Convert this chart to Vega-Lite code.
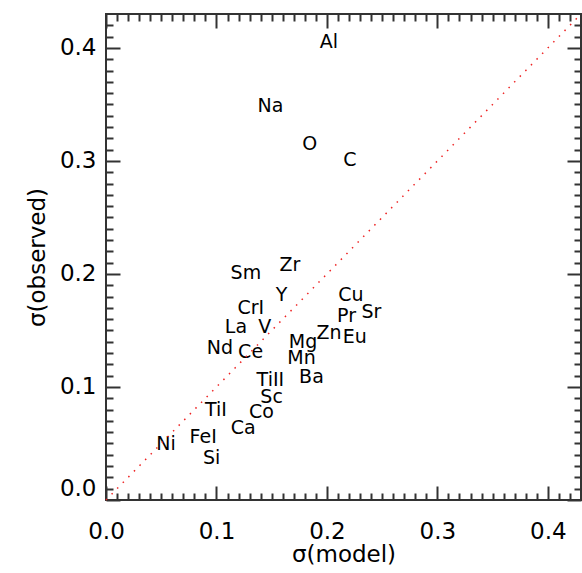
{
  "$schema": "https://vega.github.io/schema/vega-lite/v6.json",
  "autosize": "none",
  "width": 475,
  "height": 486,
  "padding": {"left": 106, "top": 14, "right": 1, "bottom": 73},
  "background": "white",
  "config": {
    "view": {"stroke": "#333", "strokeWidth": 2},
    "font": "DejaVu Sans"
  },
  "datasets": {
    "labels": [
      {"el": "Al", "x": 0.2017, "y": 0.4050},
      {"el": "Na", "x": 0.1489, "y": 0.3484},
      {"el": "O", "x": 0.1845, "y": 0.3148},
      {"el": "C", "x": 0.2207, "y": 0.3007},
      {"el": "Sm", "x": 0.1266, "y": 0.2005},
      {"el": "Zr", "x": 0.1664, "y": 0.2078},
      {"el": "Y", "x": 0.1589, "y": 0.1813},
      {"el": "CrI", "x": 0.1311, "y": 0.1695},
      {"el": "Cu", "x": 0.2216, "y": 0.1813},
      {"el": "Sr", "x": 0.2403, "y": 0.1665},
      {"el": "Pr", "x": 0.2177, "y": 0.1627},
      {"el": "La", "x": 0.1176, "y": 0.1527},
      {"el": "V", "x": 0.1438, "y": 0.1527},
      {"el": "Zn", "x": 0.2019, "y": 0.1480},
      {"el": "Eu", "x": 0.2252, "y": 0.1444},
      {"el": "Mg", "x": 0.1784, "y": 0.1400},
      {"el": "Nd", "x": 0.1031, "y": 0.1342},
      {"el": "Ce", "x": 0.1309, "y": 0.1312},
      {"el": "Mn", "x": 0.1770, "y": 0.1253},
      {"el": "Ba", "x": 0.1860, "y": 0.1090},
      {"el": "TiII", "x": 0.1488, "y": 0.1064},
      {"el": "Sc", "x": 0.1499, "y": 0.0908},
      {"el": "TiI", "x": 0.0995, "y": 0.0796},
      {"el": "Co", "x": 0.1408, "y": 0.0781},
      {"el": "Ca", "x": 0.1242, "y": 0.0639},
      {"el": "FeI", "x": 0.0880, "y": 0.0554},
      {"el": "Ni", "x": 0.0543, "y": 0.0495},
      {"el": "Si", "x": 0.0956, "y": 0.0369}
    ],
    "diag": [
      {"x": 0, "y": 0},
      {"x": 0.43, "y": 0.43}
    ]
  },
  "layer": [
    {
      "data": {"name": "labels"},
      "mark": {"type": "text", "fontSize": 19, "font": "DejaVu Sans", "color": "black", "align": "center", "baseline": "middle"},
      "encoding": {
        "text": {"field": "el"},
        "x": {
          "field": "x", "type": "quantitative",
          "scale": {"domain": [0, 0.43], "nice": false, "zero": false},
          "axis": {
            "orient": "bottom", "values": [0, 0.1, 0.2, 0.3, 0.4], "format": ".1f",
            "tickSize": -14, "tickWidth": 2, "tickColor": "#333",
            "labelPadding": 34, "labelFontSize": 23, "labelFont": "DejaVu Sans", "labelColor": "black",
            "labelFlush": false, "labelOverlap": false, "labelBound": false,
            "title": "σ(model)", "titleFontSize": 23, "titleFont": "DejaVu Sans", "titleFontWeight": "normal", "titleColor": "black", "titlePadding": 0,
            "domain": false, "grid": false
          }
        },
        "y": {
          "field": "y", "type": "quantitative",
          "scale": {"domain": [0, 0.43], "nice": false, "zero": false},
          "axis": {
            "orient": "left", "values": [0, 0.1, 0.2, 0.3, 0.4], "format": ".1f",
            "tickSize": -14, "tickWidth": 2, "tickColor": "#333",
            "labelPadding": 24, "labelFontSize": 23, "labelFont": "DejaVu Sans", "labelColor": "black",
            "labelFlush": true, "labelOverlap": false, "labelBound": false,
            "title": "σ(observed)", "titleFontSize": 23, "titleFont": "DejaVu Sans", "titleFontWeight": "normal", "titleColor": "black", "titlePadding": 10,
            "domain": false, "grid": false
          }
        }
      }
    },
    {
      "data": {"name": "diag"},
      "mark": {"type": "line", "color": "#ee2222", "strokeWidth": 1.5, "strokeDash": [1.5, 6.5]},
      "encoding": {
        "x": {
          "field": "x", "type": "quantitative",
          "scale": {"domain": [0, 0.43], "nice": false, "zero": false},
          "axis": {
            "orient": "bottom",
            "values": [0.01,0.02,0.03,0.04,0.05,0.06,0.07,0.08,0.09,0.11,0.12,0.13,0.14,0.15,0.16,0.17,0.18,0.19,0.21,0.22,0.23,0.24,0.25,0.26,0.27,0.28,0.29,0.31,0.32,0.33,0.34,0.35,0.36,0.37,0.38,0.39,0.41,0.42],
            "tickSize": -7, "tickWidth": 2, "tickColor": "#333",
            "labels": false, "title": null, "domain": false, "grid": false
          }
        },
        "y": {
          "field": "y", "type": "quantitative",
          "scale": {"domain": [0, 0.43], "nice": false, "zero": false},
          "axis": {
            "orient": "left",
            "values": [0.01,0.02,0.03,0.04,0.05,0.06,0.07,0.08,0.09,0.11,0.12,0.13,0.14,0.15,0.16,0.17,0.18,0.19,0.21,0.22,0.23,0.24,0.25,0.26,0.27,0.28,0.29,0.31,0.32,0.33,0.34,0.35,0.36,0.37,0.38,0.39,0.41,0.42],
            "tickSize": -7, "tickWidth": 2, "tickColor": "#333",
            "labels": false, "title": null, "domain": false, "grid": false
          }
        }
      }
    },
    {
      "data": {"name": "diag"},
      "mark": {"type": "point", "opacity": 0},
      "encoding": {
        "x": {
          "field": "x", "type": "quantitative",
          "scale": {"domain": [0, 0.43], "nice": false, "zero": false},
          "axis": {
            "orient": "top", "values": [0, 0.1, 0.2, 0.3, 0.4],
            "tickSize": -14, "tickWidth": 2, "tickColor": "#333",
            "labels": false, "title": null, "domain": false, "grid": false
          }
        },
        "y": {
          "field": "y", "type": "quantitative",
          "scale": {"domain": [0, 0.43], "nice": false, "zero": false},
          "axis": {
            "orient": "right", "values": [0, 0.1, 0.2, 0.3, 0.4],
            "tickSize": -14, "tickWidth": 2, "tickColor": "#333",
            "labels": false, "title": null, "domain": false, "grid": false
          }
        }
      }
    },
    {
      "data": {"name": "diag"},
      "mark": {"type": "point", "opacity": 0},
      "encoding": {
        "x": {
          "field": "x", "type": "quantitative",
          "scale": {"domain": [0, 0.43], "nice": false, "zero": false},
          "axis": {
            "orient": "top",
            "values": [0.01,0.02,0.03,0.04,0.05,0.06,0.07,0.08,0.09,0.11,0.12,0.13,0.14,0.15,0.16,0.17,0.18,0.19,0.21,0.22,0.23,0.24,0.25,0.26,0.27,0.28,0.29,0.31,0.32,0.33,0.34,0.35,0.36,0.37,0.38,0.39,0.41,0.42],
            "tickSize": -7, "tickWidth": 2, "tickColor": "#333",
            "labels": false, "title": null, "domain": false, "grid": false
          }
        },
        "y": {
          "field": "y", "type": "quantitative",
          "scale": {"domain": [0, 0.43], "nice": false, "zero": false},
          "axis": {
            "orient": "right",
            "values": [0.01,0.02,0.03,0.04,0.05,0.06,0.07,0.08,0.09,0.11,0.12,0.13,0.14,0.15,0.16,0.17,0.18,0.19,0.21,0.22,0.23,0.24,0.25,0.26,0.27,0.28,0.29,0.31,0.32,0.33,0.34,0.35,0.36,0.37,0.38,0.39,0.41,0.42],
            "tickSize": -7, "tickWidth": 2, "tickColor": "#333",
            "labels": false, "title": null, "domain": false, "grid": false
          }
        }
      }
    }
  ],
  "resolve": {"axis": {"x": "independent", "y": "independent"}}
}
